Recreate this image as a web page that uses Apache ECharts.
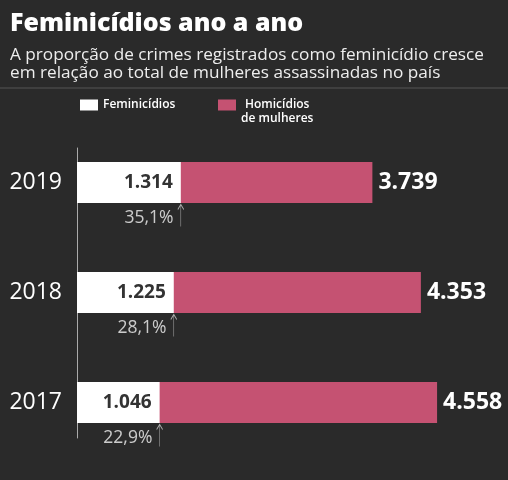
<!DOCTYPE html>
<html>
<head>
<meta charset="utf-8">
<script src="https://cdn.jsdelivr.net/npm/echarts@6/dist/echarts.min.js"></script>
<style>
  html, body { margin: 0; padding: 0; background: #2a2a2a; }
  #chart { width: 508px; height: 480px; }
</style>
</head>
<body>
<div id="chart"></div>
<script>
// dados
var anos = ['2019', '2018', '2017'];
var feminicidios = [1314, 1225, 1046];
var homicidios = [3739, 4353, 4558];
var proporcao = [35.1, 28.1, 22.9];

var rosa = '#c55272';
var fonte = '"Open Sans", "Noto Sans", sans-serif';

// 1314 -> "1.314"
function milhar(v) {
  return String(v).replace(/\B(?=(\d{3})+(?!\d))/g, '.');
}

var setas = [];
for (var i = 0; i < anos.length; i++) {
  setas.push([feminicidios[i], anos[i]]);
}

var chart = echarts.init(document.getElementById('chart'));

var option = {
  backgroundColor: '#2a2a2a',
  animation: false,
  textStyle: { fontFamily: fonte },
  title: {
    text: 'Feminicídios ano a ano',
    subtext: 'A proporção de crimes registrados como feminicídio cresce\nem relação ao total de mulheres assassinadas no país',
    left: 5,
    top: 6,
    itemGap: 10,
    textStyle: { color: '#fff', fontSize: 25, fontWeight: 800, fontFamily: fonte },
    subtextStyle: { color: '#eee', fontSize: 17.2, lineHeight: 18, fontFamily: fonte }
  },
  graphic: [
    {
      type: 'line',
      shape: { x1: 0, y1: 88, x2: 508, y2: 88 },
      style: { stroke: '#555', lineWidth: 1 },
      silent: true
    }
  ],
  legend: [
    {
      data: ['Feminicídios'],
      left: 80,
      top: 99,
      padding: 0,
      itemWidth: 18,
      itemHeight: 11,
      icon: 'rect',
      selectedMode: false,
      textStyle: { color: '#fff', fontSize: 12, fontWeight: 600, fontFamily: fonte }
    },
    {
      data: ['Homicídios de mulheres'],
      left: 218,
      top: 99,
      padding: 0,
      itemWidth: 18,
      itemHeight: 11,
      icon: 'rect',
      selectedMode: false,
      formatter: function () {
        return '{a|Homicídios}\n{a|de mulheres}';
      },
      textStyle: {
        color: '#fff', fontSize: 12, fontWeight: 600, fontFamily: fonte,
        padding: [14, 0, 0, 0],
        rich: { a: { align: 'center', color: '#fff', fontSize: 12, fontWeight: 600, lineHeight: 14, fontFamily: fonte } }
      }
    }
  ],
  grid: [
    // barras
    { left: 77, width: 395, top: 127.5, height: 330 },
    // só para a linha vertical do eixo
    { left: 77, width: 395, top: 148, height: 290 }
  ],
  xAxis: [
    { type: 'value', gridIndex: 0, min: 0, max: 5000, show: false },
    { type: 'value', gridIndex: 1, min: 0, max: 5000, show: false }
  ],
  yAxis: [
    {
      type: 'category',
      gridIndex: 0,
      data: anos,
      inverse: true,
      axisLine: { show: false },
      axisTick: { show: false },
      axisLabel: { color: '#fff', fontSize: 23, margin: 15, fontFamily: fonte }
    },
    {
      type: 'category',
      gridIndex: 1,
      data: anos,
      inverse: true,
      axisLine: { show: true, lineStyle: { color: '#aaa', width: 1 } },
      axisTick: { show: false },
      axisLabel: { show: false }
    }
  ],
  series: [
    {
      name: 'Homicídios de mulheres',
      type: 'bar',
      data: homicidios,
      barWidth: 41,
      itemStyle: { color: rosa },
      label: {
        show: true,
        position: 'right',
        distance: 6,
        color: '#fff',
        fontSize: 23,
        fontWeight: 700,
        fontFamily: fonte,
        formatter: function (p) { return milhar(p.value); }
      },
      silent: true
    },
    {
      name: 'Feminicídios',
      type: 'bar',
      data: feminicidios,
      barWidth: 41,
      barGap: '-100%',
      itemStyle: { color: '#fff' },
      label: {
        show: true,
        position: 'insideRight',
        distance: 8,
        color: '#333',
        fontSize: 19,
        fontWeight: 700,
        fontFamily: fonte,
        formatter: function (p) { return milhar(p.value); }
      },
      silent: true
    },
    {
      // seta + porcentagem abaixo da barra
      name: 'proporcao',
      type: 'scatter',
      data: setas,
      symbol: 'path://M0,5 L3,0 L6,5 M3,0 L3,22',
      symbolSize: [6, 22],
      symbolOffset: [0, 33],
      itemStyle: { color: 'rgba(0,0,0,0)', borderColor: '#ccc', borderWidth: 1 },
      label: {
        show: true,
        position: 'left',
        distance: 4,
        offset: [0, 3],
        color: '#f4f4f4',
        fontSize: 17.5,
        fontFamily: fonte,
        formatter: function (p) {
          return String(proporcao[p.dataIndex]).replace('.', ',') + '%';
        }
      },
      z: 5,
      silent: true
    }
  ]
};

chart.setOption(option);
</script>
</body>
</html>
